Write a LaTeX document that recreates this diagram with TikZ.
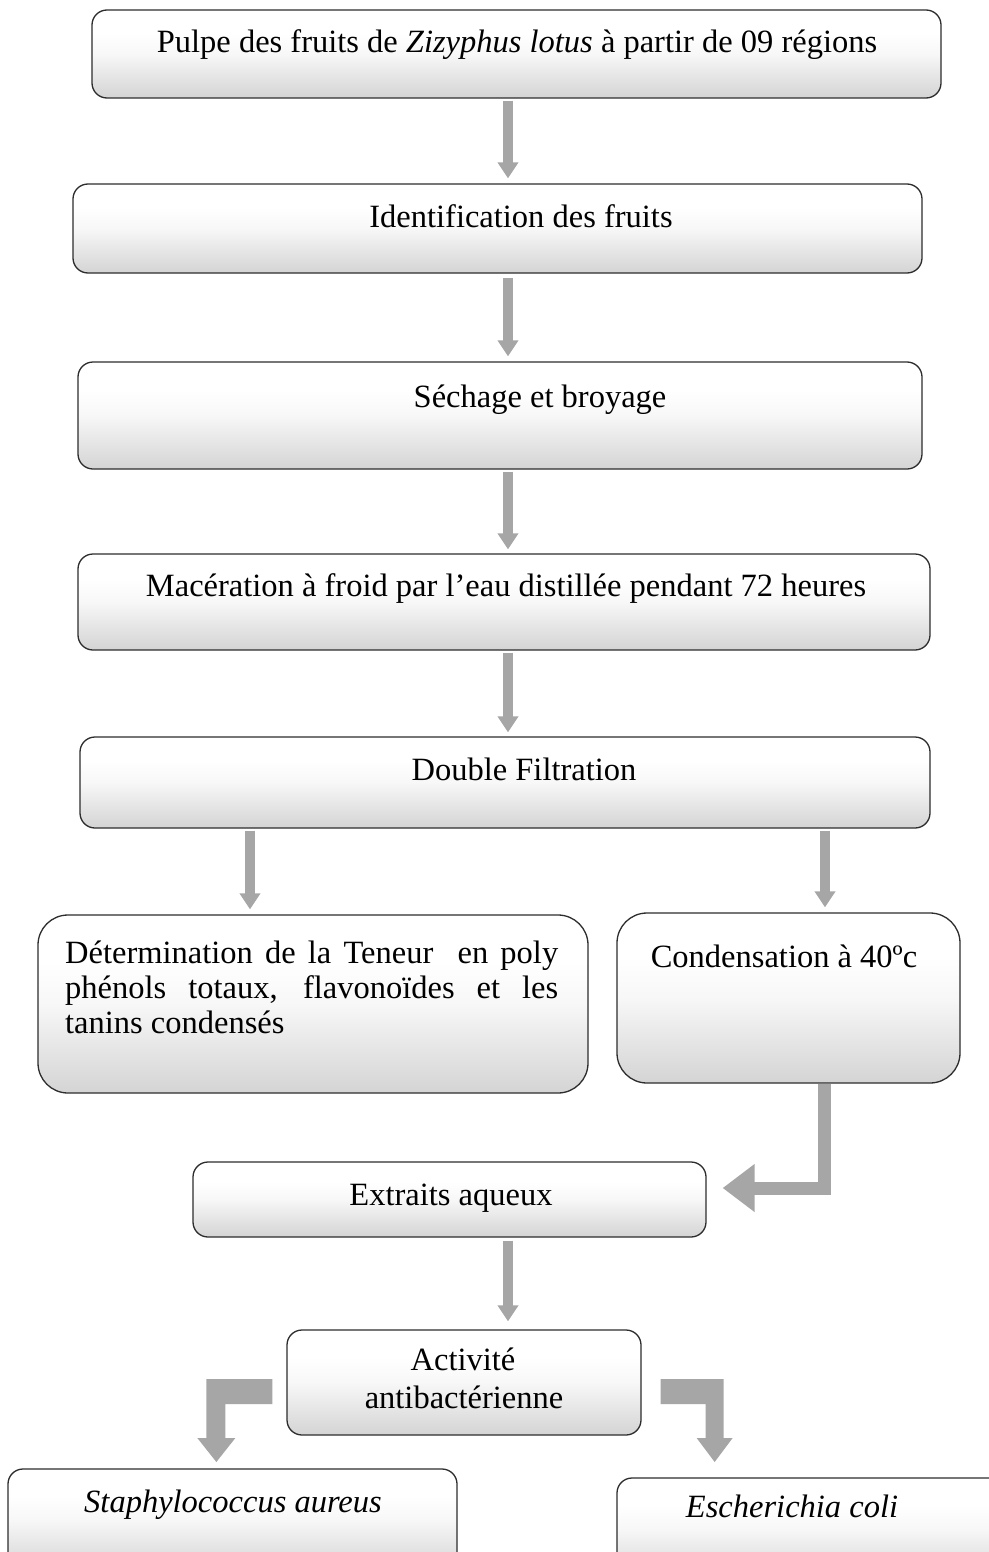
\documentclass[tikz,border=0pt]{standalone}
\usepackage{fontspec}
\setmainfont{Liberation Serif}
\usetikzlibrary{arrows.meta}
\definecolor{arrowgray}{RGB}{166,166,166}
\definecolor{shadegray}{RGB}{212,212,212}
\definecolor{edgegray}{RGB}{45,45,45}
\pgfdeclareverticalshading{boxshade}{100bp}{color(0bp)=(shadegray); color(25bp)=(shadegray); color(50bp)=(white!97!black); color(62bp)=(white); color(100bp)=(white)}
\begin{document}
\begin{tikzpicture}[x=1pt,y=-1pt,
  flowbox/.style={draw=edgegray, line width=1.3pt, rounded corners=15pt, shading=boxshade, inner sep=0pt},
  bigcorner/.style={rounded corners=30pt},
  lbl/.style={inner sep=0pt, anchor=base, font=\fontsize{32.5}{35}\selectfont},
  flowarrow/.style={draw=arrowgray, line width=10pt, -{Triangle[width=20pt 0,length=16pt 0 0]}},
  bigarrow/.style={draw=arrowgray, line width=13pt, line join=miter, -{Triangle[width=46pt 0,length=32pt 0 0]}},
  bentarrow/.style={fill=arrowgray, draw=none}]
\fill[white] (0,0) rectangle (988,1552);
\useasboundingbox (0,0) rectangle (988,1552);

% columns for straight connectors
\coordinate (cx) at (508,0);
\coordinate (cl) at (250,0);
\coordinate (cr) at (825,0);

% boxes
\node[flowbox, minimum width=849pt, minimum height=88pt] (b1) at (516.5,54) {};
\node[flowbox, minimum width=849pt, minimum height=89pt] (b2) at (497.5,228.5) {};
\node[flowbox, minimum width=844pt, minimum height=107pt] (b3) at (500,415.5) {};
\node[flowbox, minimum width=852pt, minimum height=96pt] (b4) at (504,602) {};
\node[flowbox, minimum width=850pt, minimum height=91pt] (b5) at (505,782.5) {};
\node[flowbox, bigcorner, minimum width=550pt, minimum height=178pt] (b6a) at (313,1004) {};
\node[flowbox, bigcorner, minimum width=343pt, minimum height=170pt] (b6b) at (788.5,998) {};
\node[flowbox, minimum width=513pt, minimum height=75pt] (b7) at (449.5,1199.5) {};
\node[flowbox, minimum width=354pt, minimum height=105pt] (b8) at (464,1382.5) {};
\node[flowbox, minimum width=449pt, minimum height=102pt] (b9) at (232.5,1520) {};
\node[flowbox, minimum width=393pt, minimum height=102pt] (b10) at (813.5,1529) {};

% texts
\node[lbl] (t1) at (517,53) {Pulpe des fruits de \textit{Zizyphus lotus} à partir de 09 régions};
\node[lbl] (t2) at (521,227) {Identification des fruits};
\node[lbl] (t3) at (540,407) {Séchage et broyage};
\node[lbl] (t4) at (506,596) {Macération à froid par l’eau distillée pendant 72 heures};
\node[lbl] (t5) at (524,780) {Double Filtration};
\node[lbl, anchor=base west] (t6a1) at (65,963) {\makebox[493pt][s]{Détermination de la Teneur\ \ en poly}};
\node[lbl, anchor=base west] (t6a2) at (65,998) {\makebox[493pt][s]{phénols totaux, flavonoïdes et les}};
\node[lbl, anchor=base west] (t6a3) at (65,1033) {tanins condensés};
\node[lbl] (t6b) at (784,967) {Condensation à 40ºc};
\node[lbl] (t7) at (451,1205) {Extraits aqueux};
\node[lbl] (t8a) at (463,1370) {Activité};
\node[lbl] (t8b) at (464,1408) {antibactérienne};
\node[lbl] (t9) at (233,1512) {\textit{Staphylococcus aureus}};
\node[lbl] (t10) at (792,1517) {\textit{Escherichia coli}};

% straight connectors
\draw[flowarrow, shorten <=2pt, shorten >=5pt] (b1.south -| cx) -- (b2.north -| cx);
\draw[flowarrow, shorten <=4pt, shorten >=5pt] (b2.south -| cx) -- (b3.north -| cx);
\draw[flowarrow, shorten <=2pt, shorten >=4pt] (b3.south -| cx) -- (b4.north -| cx);
\draw[flowarrow, shorten <=2pt, shorten >=4pt] (b4.south -| cx) -- (b5.north -| cx);
\draw[flowarrow, shorten <=2pt, shorten >=5pt] (b5.south -| cl) -- (b6a.north -| cl);
\draw[flowarrow, shorten <=2pt, shorten >=5pt] (b5.south -| cr) -- (b6b.north -| cr);
\draw[flowarrow, shorten <=3pt, shorten >=8pt] (b7.south -| cx) -- (b8.north -| cx);

% bent connector from Condensation to Extraits aqueux
\draw[bigarrow] ([xshift=35.5pt]b6b.south) |- ([xshift=16pt,yshift=11.5pt]b7.east);

% L-shaped arrows from Activité antibactérienne
\fill[bentarrow] ([xshift=-14pt,yshift=3.5pt]b8.west) -- ++(-66,0) -- ++(0,59) -- ++(-9,0)
  -- ++(19,24) -- ++(19,-24) -- ++(-10,0) -- ++(0,-34) -- ++(47,0) -- cycle;
\fill[bentarrow] ([xshift=19pt,yshift=3.5pt]b8.east) -- ++(63,0) -- ++(0,59) -- ++(9,0)
  -- ++(-18,24) -- ++(-18,-24) -- ++(9,0) -- ++(0,-34) -- ++(-45,0) -- cycle;
\end{tikzpicture}
\end{document}
